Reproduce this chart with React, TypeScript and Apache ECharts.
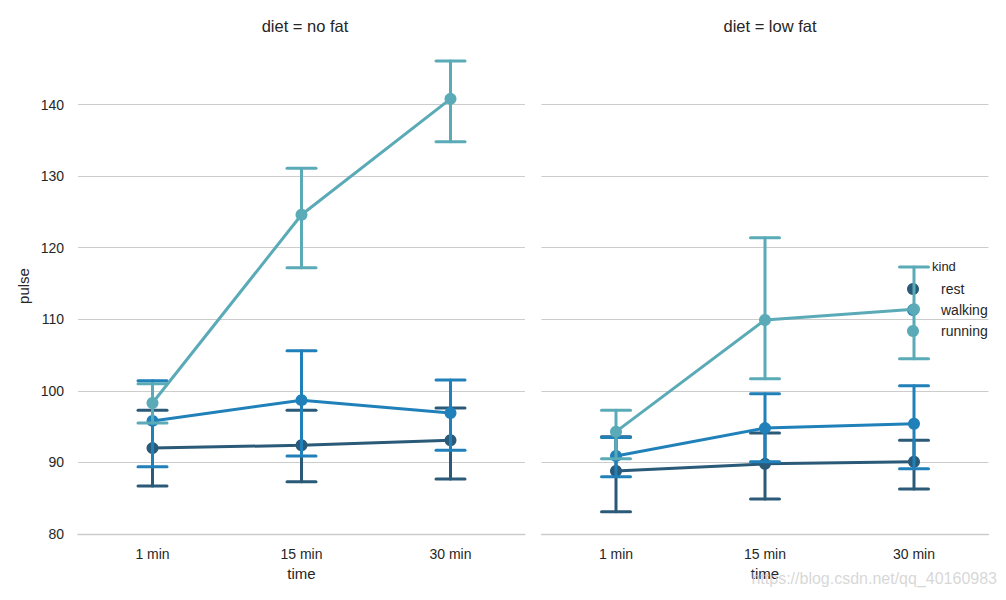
import React, { useEffect, useRef } from "react";
import * as echarts from "echarts";

const categories = ["1 min", "15 min", "30 min"];
const kinds = ["rest", "walking", "running"];
const panels = ["diet = no fat", "diet = low fat"];
const colors = ["#2a5a78", "#2080b9", "#5aaab7"];

// no fat panel
const noFatMean = [
  [92.0, 92.4, 93.1],
  [95.8, 98.7, 96.9],
  [98.3, 124.6, 140.8],
];
const noFatLow = [
  [86.7, 87.3, 87.7],
  [89.4, 90.9, 91.7],
  [95.5, 117.2, 134.8],
];
const noFatHigh = [
  [97.3, 97.3, 97.6],
  [101.4, 105.6, 101.5],
  [101.0, 131.1, 146.1],
];

// low fat panel
const lowFatMean = [
  [88.8, 89.8, 90.1],
  [90.9, 94.8, 95.4],
  [94.3, 109.9, 111.4],
];
const lowFatLow = [
  [83.1, 84.9, 86.3],
  [88.0, 90.1, 89.1],
  [90.5, 101.7, 104.5],
];
const lowFatHigh = [
  [93.6, 94.1, 93.1],
  [93.5, 99.6, 100.7],
  [97.3, 121.4, 117.3],
];

const yMin = 80;
const yMax = 149.3;
const yTicks = [80, 90, 100, 110, 120, 130, 140];

const TEXT = "#262626";
const GRID = "#cccccc";
const FONT = "'Liberation Sans', Arial, sans-serif";

export default function App() {
  const ref = useRef<HTMLDivElement>(null);

  useEffect(() => {
    if (!ref.current) return;
    const chart = echarts.init(ref.current, undefined, { renderer: "svg" });

    const means = [noFatMean, lowFatMean];
    const lows = [noFatLow, lowFatLow];
    const highs = [noFatHigh, lowFatHigh];

    const series: any[] = [];
    for (let p = 0; p < 2; p++) {
      for (let k = 0; k < kinds.length; k++) {
        const col = colors[k];
        series.push({
          type: "custom",
          name: kinds[k] + "_err",
          xAxisIndex: p,
          yAxisIndex: p,
          z: 2 + k * 2,
          data: categories.map((_, i) => [i, lows[p][k][i], highs[p][k][i]]),
          renderItem: (params: any, api: any) => {
            const x = api.value(0);
            const lo = api.coord([x, api.value(1)]);
            const hi = api.coord([x, api.value(2)]);
            const hw = 14.5;
            const st = { stroke: col, lineWidth: 3, lineCap: "round" };
            return {
              type: "group",
              children: [
                { type: "line", shape: { x1: lo[0], y1: lo[1], x2: hi[0], y2: hi[1] }, style: st },
                { type: "line", shape: { x1: lo[0] - hw, y1: lo[1], x2: lo[0] + hw, y2: lo[1] }, style: st },
                { type: "line", shape: { x1: hi[0] - hw, y1: hi[1], x2: hi[0] + hw, y2: hi[1] }, style: st },
              ],
            };
          },
          silent: true,
        });
        series.push({
          type: "line",
          name: kinds[k],
          xAxisIndex: p,
          yAxisIndex: p,
          z: 3 + k * 2,
          data: means[p][k],
          symbol: "circle",
          symbolSize: 12,
          showSymbol: true,
          lineStyle: { color: col, width: 3 },
          itemStyle: { color: col },
        });
      }
    }

    const grids = [
      { left: 78, top: 38, width: 447, height: 496 },
      { left: 541.5, top: 38, width: 447, height: 496 },
    ];

    const xAxes = [0, 1].map((p) => ({
      type: "category",
      gridIndex: p,
      data: categories,
      boundaryGap: true,
      name: "time",
      nameLocation: "middle",
      nameGap: 32,
      nameTextStyle: { color: TEXT, fontSize: 15, fontFamily: FONT },
      axisLine: { show: true, lineStyle: { color: GRID, width: 1.3 } },
      axisTick: { show: false },
      axisLabel: { color: TEXT, fontSize: 14, fontFamily: FONT, margin: 13 },
      splitLine: { show: false },
    }));

    const yAxes = [0, 1].map((p) => ({
      type: "value",
      gridIndex: p,
      min: yMin,
      max: yMax,
      interval: 10,
      name: p === 0 ? "pulse" : "",
      nameLocation: "middle",
      nameGap: 47,
      nameTextStyle: { color: TEXT, fontSize: 15, fontFamily: FONT },
      axisLine: { show: false },
      axisTick: { show: false },
      axisLabel: {
        show: p === 0,
        color: TEXT,
        fontSize: 14,
        fontFamily: FONT,
        margin: 14,
        showMaxLabel: false,
        formatter: (v: number) => (yTicks.indexOf(v) >= 0 ? String(v) : ""),
      },
      splitLine: { show: true, showMaxLine: false, lineStyle: { color: GRID, width: 1 } },
    }));

    chart.setOption({
      animation: false,
      backgroundColor: "#ffffff",
      textStyle: { fontFamily: FONT },
      title: panels.map((t, p) => ({
        text: t,
        left: p === 0 ? 300 : 765,
        top: 12,
        textAlign: "center",
        textStyle: { color: TEXT, fontSize: 16.5, fontWeight: "normal", fontFamily: FONT },
      })),
      grid: grids,
      xAxis: xAxes,
      yAxis: yAxes,
      legend: {
        orient: "vertical",
        left: 902,
        top: 277,
        itemWidth: 12,
        itemHeight: 12,
        itemGap: 7,
        selectedMode: false,
        data: kinds.map((k) => ({ name: k, icon: "circle" })),
        textStyle: { color: TEXT, fontSize: 14, fontFamily: FONT, lineHeight: 14, padding: [0, 0, 0, 17] },
      },
      graphic: [
        {
          type: "text",
          left: 932,
          top: 260,
          style: { text: "kind", fill: TEXT, fontSize: 13, fontFamily: FONT },
          z: 100,
        },
        {
          type: "text",
          right: 9,
          top: 570,
          style: {
            text: "https://blog.csdn.net/qq_40160983",
            fill: "rgba(205,205,205,0.8)",
            fontSize: 16,
            fontFamily: FONT,
          },
          z: 100,
        },
      ],
      series,
    });

    return () => chart.dispose();
  }, []);

  return (
    <div
      ref={ref}
      style={{ position: "fixed", left: 0, top: 0, width: 1006, height: 600, background: "#fff" }}
    />
  );
}
